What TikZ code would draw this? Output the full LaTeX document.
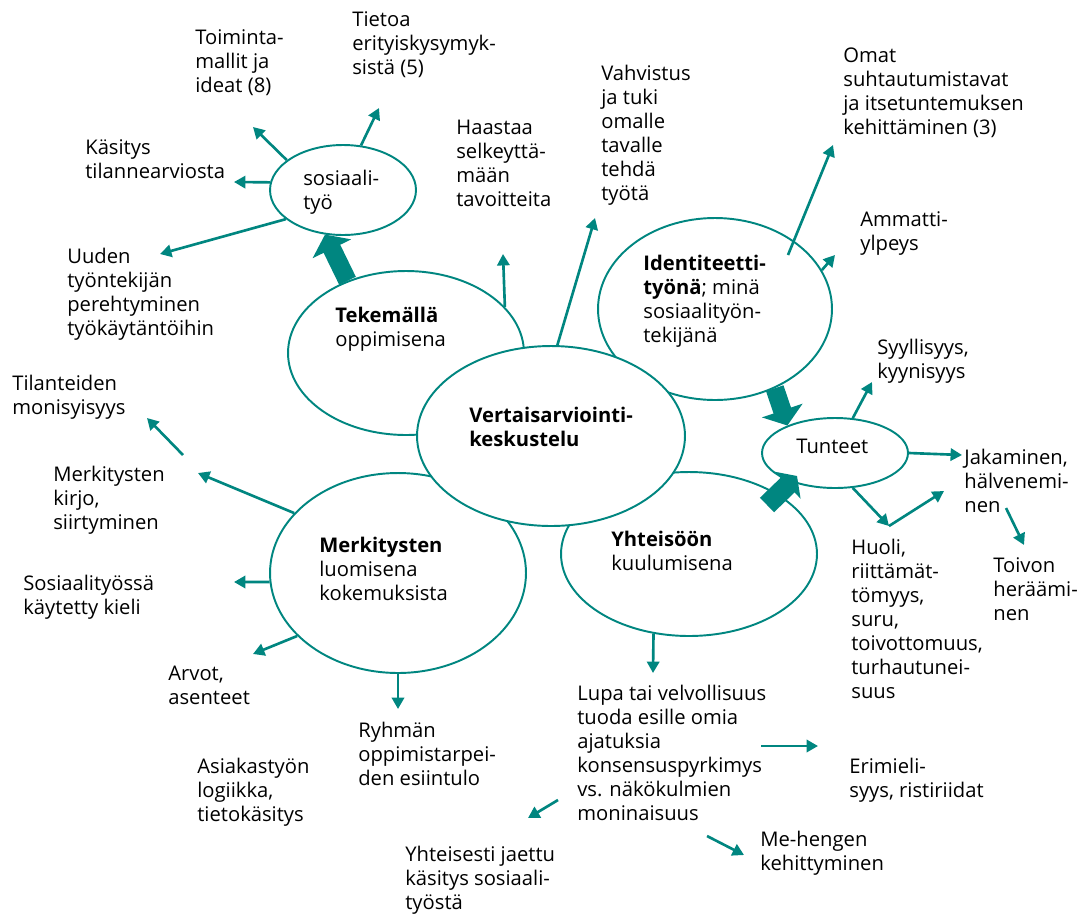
\documentclass[tikz,border=0pt]{standalone}
\usepackage{fontspec}
\setmainfont{Open Sans}
\usepackage{tikz}
\usetikzlibrary{arrows.meta,shapes.geometric}
\definecolor{petrooli}{RGB}{0,134,128}
\newcommand{\pnuoli}{-{Triangle[length=6.5pt,width=7pt]}}
\newcommand{\isonuoli}{-{Triangle[length=9pt,width=24pt]}}

\tikzset{
  pallo/.style={ellipse, draw=petrooli, line width=1.1pt, fill=white, inner sep=0pt},
  teksti/.style={anchor=north west, align=left, inner sep=0pt, font=\fontsize{11.5}{13.66}\selectfont},
  ohut/.style={petrooli, line width=1.5pt},
  paksu/.style={petrooli, line width=10.5pt}
}

\begin{document}
\begin{tikzpicture}[x=0.02cm,y=-0.02cm]
  \useasboundingbox[fill=white] (0,0) rectangle (1081,913);

  % pallot
  \node[pallo, minimum width=2.92cm, minimum height=1.8cm] (sos) at (343,190) {};
  \node[pallo, minimum width=4.72cm, minimum height=3.28cm] (tek) at (406,353) {};
  \node[pallo, minimum width=4.68cm, minimum height=3.64cm] (ident) at (715,309) {};
  \node[pallo, minimum width=5.12cm, minimum height=4cm] (merk) at (398,573) {};
  \node[pallo, minimum width=5.12cm, minimum height=3.28cm] (yht) at (689,554) {};
  \node[pallo, minimum width=2.92cm, minimum height=1.4cm] (tunteet) at (835,453) {};
  \node[pallo, minimum width=5.36cm, minimum height=3.6cm] (vert) at (551,436) {};

  \node[teksti] (t-sos) at (303,170) {sosiaali-\\työ};
  \node[teksti] (t-tek) at (335,307) {\textbf{Tekemällä}\\oppimisena};
  \node[teksti] (t-vert) at (469,407) {\textbf{Vertaisarviointi-}\\\textbf{keskustelu}};
  \node[teksti] (t-ident) at (643,255) {\textbf{Identiteetti-}\\\textbf{työnä}; minä\\sosiaalityön-\\tekijänä};
  \node[teksti] (t-tunteet) at (796,439) {Tunteet};
  \node[teksti] (t-merk) at (319,537) {\textbf{Merkitysten}\\luomisena\\kokemuksista};
  \node[teksti] (t-yht) at (611,531) {\textbf{Yhteisöön}\\kuulumisena};

  % tekstit
  \node[teksti] (toim) at (195,29) {Toiminta-\\mallit ja\\ideat (8)};
  \node[teksti] (tietoa) at (352,11) {Tietoa\\erityiskysymyk-\\sistä (5)};
  \node[teksti] (kasitys) at (85,139) {Käsitys\\tilannearviosta};
  \node[teksti] (uuden) at (67,248) {Uuden\\työntekijän\\perehtyminen\\työkäytäntöihin};
  \node[teksti] (haastaa) at (456,120) {Haastaa\\selkeyttä-\\mään\\tavoitteita};
  \node[teksti] (vahvistus) at (601,65) {Vahvistus\\ja tuki\\omalle\\tavalle\\tehdä\\työtä};
  \node[teksti] (omat) at (843,47) {Omat\\suhtautumistavat\\ja itsetuntemuksen\\kehittäminen (3)};
  \node[teksti] (ammatti) at (860,211) {Ammatti-\\ylpeys};
  \node[teksti] (syyll) at (877,339) {Syyllisyys,\\kyynisyys};
  \node[teksti] (jakaminen) at (964,449) {Jakaminen,\\hälvenemi-\\nen};
  \node[teksti] (toivon) at (993,557) {Toivon\\heräämi-\\nen};
  \node[teksti] (huoli) at (851,539) {Huoli,\\riittämät-\\tömyys,\\suru,\\toivottomuus,\\turhautunei-\\suus};
  \node[teksti] (tilanteiden) at (12,375) {Tilanteiden\\monisyisyys};
  \node[teksti] (kirjo) at (53,466) {Merkitysten\\kirjo,\\siirtyminen};
  \node[teksti] (kieli) at (23,575) {Sosiaalityössä\\käytetty kieli};
  \node[teksti] (arvot) at (168,666) {Arvot,\\asenteet};
  \node[teksti] (ryhman) at (358,722) {Ryhmän\\oppimistarpei-\\den esiintulo};
  \node[teksti] (asiakas) at (197,758) {Asiakastyön\\logiikka,\\tietokäsitys};
  \node[teksti] (lupa) at (577,685) {Lupa tai velvollisuus\\tuoda esille omia\\ajatuksia\\konsensuspyrkimys\\vs. näkökulmien\\moninaisuus};
  \node[teksti] (erimieli) at (849,758) {Erimieli-\\syys, ristiriidat};
  \node[teksti] (mehenki) at (760,831) {Me-hengen\\kehittyminen};
  \node[teksti] (yhteisesti) at (405,846) {Yhteisesti jaettu\\käsitys sosiaali-\\työstä};

  % nuolten päät
  \coordinate (p-toim) at (253,127);
  \coordinate (p-tietoa) at (379,108);
  \coordinate (p-kasitys) at (234,182);
  \coordinate (p-uuden) at (160,254);
  \coordinate (p-haastaa) at (503,254);
  \coordinate (p-vahv) at (595,218);
  \coordinate (a-omat) at (788,255);
  \coordinate (p-omat) at (833,145);
  \coordinate (p-ammatti) at (835,255);
  \coordinate (p-syyll) at (872,382);
  \coordinate (p-jak) at (962,455);
  \coordinate (kulma) at (889,526);
  \coordinate (p-jak2) at (944,491);
  \coordinate (a-toivon) at (1006,508);
  \coordinate (p-toivon) at (1024,545);
  \coordinate (a-tilant) at (183,455);
  \coordinate (p-tilant) at (147,418);
  \coordinate (p-kirjo) at (198,473);
  \coordinate (p-kieli) at (234,582);
  \coordinate (p-arvot) at (253,654);
  \coordinate (p-ryhman) at (398,709);
  \coordinate (p-lupa) at (653,673);
  \coordinate (a-yhteis) at (558,800);
  \coordinate (p-yhteis) at (528,818);
  \coordinate (a-erim) at (761,746);
  \coordinate (p-erim) at (818,746);
  \coordinate (a-me) at (707,836);
  \coordinate (p-me) at (744,855);
  \coordinate (a-yht) at (767,505);
  \coordinate (p-yht) at (797,476);

  % ohuet nuolet
  \draw[ohut,\pnuoli] (sos.152) -- (p-toim);
  \draw[ohut,\pnuoli] (sos.68) -- (p-tietoa);
  \draw[ohut,\pnuoli] (sos.174) -- (p-kasitys);
  \draw[ohut,\pnuoli] (sos.207) -- (p-uuden);
  \draw[ohut,\pnuoli] (tek.25) -- (p-haastaa);
  \draw[ohut,\pnuoli] (vert.86) -- (p-vahv);
  \draw[ohut,\pnuoli] (a-omat) -- (p-omat);
  \draw[ohut,\pnuoli] (ident.20) -- (p-ammatti);
  \draw[ohut,\pnuoli] (tunteet.63) -- (p-syyll);
  \draw[ohut,\pnuoli] (tunteet.0) -- (p-jak);
  \draw[ohut,\pnuoli] (tunteet.297) -- (kulma);
  \draw[ohut,\pnuoli] (kulma) -- (p-jak2);
  \draw[ohut,\pnuoli] (a-toivon) -- (p-toivon);
  \draw[ohut,\pnuoli] (a-tilant) -- (p-tilant);
  \draw[ohut,\pnuoli] (merk.150) -- (p-kirjo);
  \draw[ohut,\pnuoli] (merk.184) -- (p-kieli);
  \draw[ohut,\pnuoli] (merk.212) -- (p-arvot);
  \draw[ohut,\pnuoli] (merk.270) -- (p-ryhman);
  \draw[ohut,\pnuoli] (yht.246) -- (p-lupa);
  \draw[ohut,\pnuoli] (a-yhteis) -- (p-yhteis);
  \draw[ohut,\pnuoli] (a-erim) -- (p-erim);
  \draw[ohut,\pnuoli] (a-me) -- (p-me);

  % paksut nuolet
  \draw[paksu,\isonuoli] (tek.129) -- (sos.248);
  \draw[paksu,\isonuoli] (ident.307) -- (tunteet.150);
  \draw[paksu,line width=11.5pt,-{Triangle[length=7.5pt,width=21pt]}] (a-yht) -- (p-yht);
\end{tikzpicture}
\end{document}
